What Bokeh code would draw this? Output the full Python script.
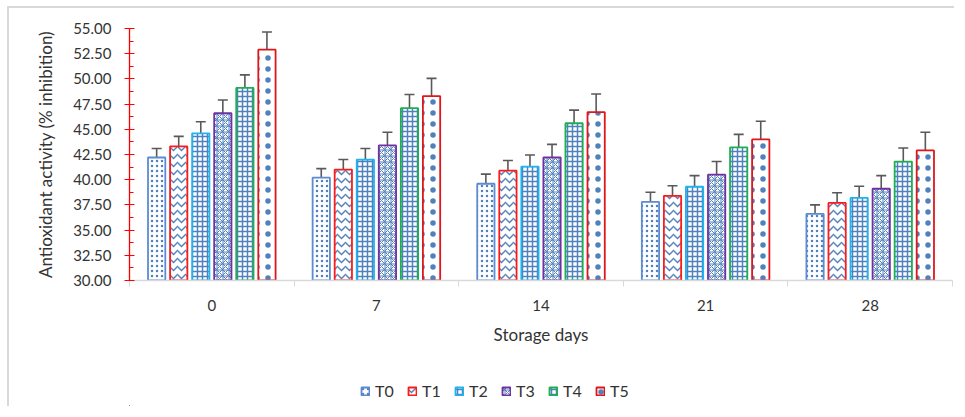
from bokeh.plotting import figure
from bokeh.layouts import column
from bokeh.models import (ColumnDataSource, FixedTicker, NumeralTickFormatter, Whisker,
                          TeeHead, Legend, LegendItem, Range1d)
from bokeh.embed import file_html
from bokeh.resources import INLINE

# ---------------- data ----------------
days = ["0", "7", "14", "21", "28"]
treatments = ["T0", "T1", "T2", "T3", "T4", "T5"]
T0 = [42.2, 40.2, 39.6, 37.8, 36.6]
T1 = [43.3, 41.0, 40.9, 38.4, 37.7]
T2 = [44.6, 42.0, 41.3, 39.3, 38.2]
T3 = [46.6, 43.4, 42.2, 40.5, 39.1]
T4 = [49.1, 47.1, 45.6, 43.2, 41.8]
T5 = [52.9, 48.3, 46.7, 44.0, 42.9]
T0_err = [0.9, 0.9, 0.95, 0.95, 0.9]
T1_err = [1.0, 1.0, 1.0, 1.0, 1.0]
T2_err = [1.15, 1.1, 1.15, 1.1, 1.15]
T3_err = [1.3, 1.3, 1.3, 1.3, 1.3]
T4_err = [1.3, 1.35, 1.3, 1.3, 1.35]
T5_err = [1.75, 1.75, 1.8, 1.8, 1.8]
y_ticks = [30.0, 32.5, 35.0, 37.5, 40.0, 42.5, 45.0, 47.5, 50.0, 52.5, 55.0]

series = [T0, T1, T2, T3, T4, T5]
errors = [T0_err, T1_err, T2_err, T3_err, T4_err, T5_err]

# ---------------- styles ----------------
BLUE = "#4F81BD"
outline = ["#5B8BD0", "#FF1A1A", "#1EB4F0", "#7030A0", "#1DB050", "#E0161B"]
FONT = "Lato"
TXT = "#333333"
BORDER = "2px solid #D9D9D9"

pat_name = ["dot", "horizontal_wave", "cross", "criss_cross", "cross", "dot"]
pat_scale = [5, 8, 5, 6, 5, 11]
pat_weight = [1, 1.3, 1.5, 1, 1.5, 4]


def bar_style(j):
    return dict(fill_color="white", line_color=outline[j], line_width=1.8,
                hatch_pattern=pat_name[j], hatch_color=BLUE,
                hatch_scale=pat_scale[j], hatch_weight=pat_weight[j], hatch_alpha=1.0)


# ---------------- main figure ----------------
p = figure(frame_width=821, frame_height=250, x_range=Range1d(0, len(days)),
           y_range=Range1d(y_ticks[0], y_ticks[-1]),
           output_backend="svg", toolbar_location=None,
           min_border_left=120, min_border_right=4, min_border_top=20,
           min_border_bottom=78,
           styles={"border-left": BORDER, "border-top": BORDER})
p.xgrid.visible = False
p.ygrid.visible = False
p.outline_line_color = None

group_pos = [i + 0.5 for i in range(len(days))]
step = 0.134
bar_w = 0.105

for j, (name, vals, errs) in enumerate(zip(treatments, series, errors)):
    xs = [g + (j - 2.5) * step for g in group_pos]
    src = ColumnDataSource(dict(x=xs, top=vals,
                                upper=[v + e for v, e in zip(vals, errs)],
                                lower=[v - e for v, e in zip(vals, errs)]))
    p.vbar(x="x", top="top", bottom=y_ticks[0], width=bar_w, source=src, **bar_style(j))
    w = Whisker(base="x", upper="upper", lower="lower", source=src,
                line_color="#595959", line_width=1.6,
                upper_head=TeeHead(size=10, line_color="#595959", line_width=1.6),
                lower_head=TeeHead(size=10, line_color="#595959", line_width=1.6))
    p.add_layout(w)

# y axis
ya = p.yaxis[0]
ya.ticker = FixedTicker(ticks=y_ticks, minor_ticks=[t + 1.25 for t in y_ticks[:-1]])
ya.formatter = NumeralTickFormatter(format="0.00")
ya.axis_line_color = "#FF0000"
ya.axis_line_width = 1.3
ya.major_tick_line_color = "#FF0000"
ya.minor_tick_line_color = "#FF0000"
ya.major_tick_in = 5
ya.major_tick_out = 5
ya.minor_tick_in = 4
ya.minor_tick_out = 0
ya.major_label_standoff = 13
ya.major_label_text_font = FONT
ya.major_label_text_font_size = "15px"
ya.major_label_text_color = TXT
ya.axis_label = "Antioxidant activity (% inhibition)"
ya.axis_label_text_font = FONT
ya.axis_label_text_font_size = "17px"
ya.axis_label_text_font_style = "normal"
ya.axis_label_text_color = TXT
ya.axis_label_standoff = 14

# x axis
xa = p.xaxis[0]
xa.ticker = FixedTicker(ticks=group_pos, minor_ticks=list(range(len(days) + 1)))
xa.major_label_overrides = {g: d for g, d in zip(group_pos, days)}
xa.axis_line_color = "#D9D9D9"
xa.axis_line_width = 1.3
xa.major_tick_line_color = None
xa.major_tick_in = 0
xa.major_tick_out = 0
xa.minor_tick_line_color = "#D9D9D9"
xa.minor_tick_in = 0
xa.minor_tick_out = 6
xa.major_label_standoff = 13
xa.major_label_text_font = FONT
xa.major_label_text_font_size = "15px"
xa.major_label_text_color = TXT
xa.axis_label = "Storage days"
xa.axis_label_text_font = FONT
xa.axis_label_text_font_size = "17px"
xa.axis_label_text_font_style = "normal"
xa.axis_label_text_color = TXT
xa.axis_label_standoff = 10

# ---------------- legend strip ----------------
pl = figure(width=945, height=50, x_range=Range1d(0, 1), y_range=Range1d(0, 1),
            output_backend="svg", toolbar_location=None,
            x_axis_location=None, y_axis_location=None, min_border=0,
            styles={"border-left": BORDER})
pl.xgrid.visible = False
pl.ygrid.visible = False
pl.outline_line_color = None
items = []
for j, name in enumerate(treatments):
    # off-screen proxy renderer carrying the series style for the legend swatch
    r = pl.vbar(x=[-5], top=[-5], bottom=-6, width=0.1, **bar_style(j))
    items.append(LegendItem(label=name, renderers=[r]))
legend = Legend(items=items, orientation="horizontal", location=(231, 6),
                glyph_width=10, glyph_height=10, label_standoff=5, spacing=12,
                label_text_font=FONT, label_text_font_size="16px", label_text_color=TXT,
                border_line_color=None, background_fill_alpha=0, padding=4, margin=0)
pl.add_layout(legend, "center")

layout = column(p, pl, spacing=0, styles={"margin-left": "7px", "margin-top": "6px"})

open("out.html", "w").write(file_html(layout, INLINE))
